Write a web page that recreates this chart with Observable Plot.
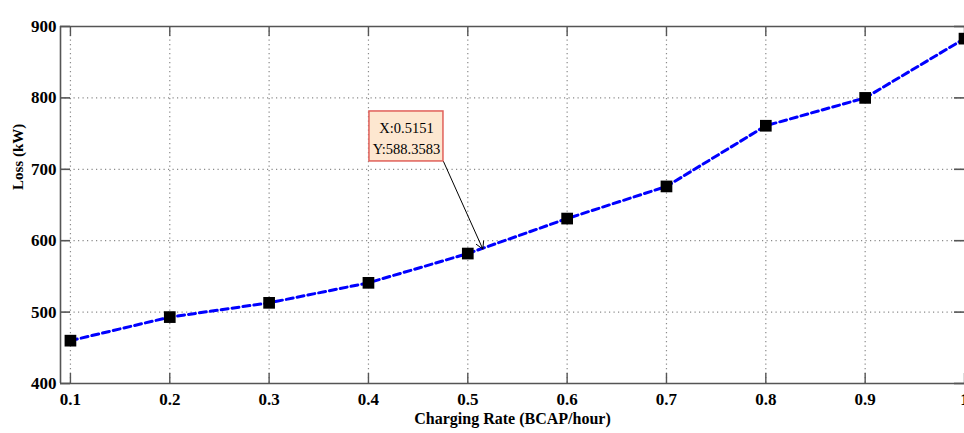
<!DOCTYPE html>
<html>
<head>
<meta charset="utf-8">
<script src="https://cdn.jsdelivr.net/npm/d3@7"></script>
<script src="https://cdn.jsdelivr.net/npm/@observablehq/plot@0.6"></script>
<style>
  html, body { margin: 0; padding: 0; background: #fff; overflow: hidden; }
  #chart svg { display: block; }
</style>
</head>
<body>
<div id="chart"></div>
<script>
// ---- data ----
const rate = [0.1, 0.2, 0.3, 0.4, 0.5, 0.6, 0.7, 0.8, 0.9, 1.0];
const loss = [460, 493, 513, 541, 582, 631, 676, 761, 800, 883];

const xTicks = [0.1, 0.2, 0.3, 0.4, 0.5, 0.6, 0.7, 0.8, 0.9, 1.0];
const xTickLabels = ["0.1", "0.2", "0.3", "0.4", "0.5", "0.6", "0.7", "0.8", "0.9", "1"];
const yTicks = [400, 500, 600, 700, 800, 900];
const xDomain = [0.09, 1.0];
const yDomain = [400, 900];

const xTitle = "Charging Rate (BCAP/hour)";
const yTitle = "Loss (kW)";

// data tip annotation
const tipX = 0.5151;
const tipY = 588.3583;
const tipLines = ["X:0.5151", "Y:588.3583"];
const tipBox = {x1: 0.401, x2: 0.4755, y1: 711, y2: 781};

// ---- build ----
const points = rate.map((r, i) => ({rate: r, loss: loss[i]}));
const xLabelMap = new Map(xTicks.map((t, i) => [t, xTickLabels[i]]));
const gridX = xTicks.filter(t => t > xDomain[0] && t < xDomain[1]);
const gridY = yTicks.filter(t => t > yDomain[0] && t < yDomain[1]);

const W = 964, H = 433, mL = 60, mT = 26, mB = 50, mR = 0;
const frameW = W - mL - mR, frameH = H - mT - mB;
const tickLen = 10;
const axisColor = "#555";

const chart = Plot.plot({
  width: W,
  height: H,
  marginLeft: mL,
  marginTop: mT,
  marginBottom: mB,
  marginRight: mR,
  style: {fontFamily: "'Liberation Serif', 'Times New Roman', serif", background: "#fff", color: "#000"},
  x: {domain: xDomain},
  y: {domain: yDomain},
  marks: [
    // dotted grid
    Plot.ruleX(gridX, {stroke: "#8a8a8a", strokeWidth: 1.2, strokeDasharray: "1.2,3.3"}),
    Plot.ruleY(gridY, {stroke: "#8a8a8a", strokeWidth: 1.2, strokeDasharray: "1.2,3.3"}),
    // frame lines (left, top, bottom)
    Plot.ruleX([xDomain[0]], {stroke: axisColor, strokeWidth: 1.6}),
    Plot.ruleY(yDomain, {stroke: axisColor, strokeWidth: 1.6}),
    // inward ticks
    Plot.ruleX(xTicks, {stroke: axisColor, strokeWidth: 1.4, insetTop: frameH - tickLen}),
    Plot.ruleX(xTicks, {stroke: axisColor, strokeWidth: 1.4, insetBottom: frameH - tickLen}),
    Plot.ruleY(yTicks, {stroke: axisColor, strokeWidth: 1.6, insetRight: frameW - tickLen}),
    Plot.ruleY(yTicks, {stroke: axisColor, strokeWidth: 1.6, insetLeft: frameW - tickLen}),
    // axis labels
    Plot.axisX(xTicks, {
      tickSize: 0, tickPadding: 9, fontSize: 17, fontWeight: "bold",
      tickFormat: d => xLabelMap.get(d), label: null
    }),
    Plot.axisY(yTicks, {
      tickSize: 0, tickPadding: 4, fontSize: 17, fontWeight: "bold", label: null
    }),
    // titles
    Plot.text([xTitle], {frameAnchor: "bottom", dy: 40, fontSize: 16, fontWeight: "bold", text: d => d}),
    Plot.text([yTitle], {frameAnchor: "left", dx: -42, dy: -15, rotate: -90, fontSize: 15, fontWeight: "bold", text: d => d}),
    // series
    Plot.line(points, {x: "rate", y: "loss", stroke: "#0000ff", strokeWidth: 3, strokeDasharray: "7,4"}),
    Plot.dot(points, {x: "rate", y: "loss", symbol: "square", r: 6.6, fill: "#000", stroke: "none"}),
    // data tip
    Plot.arrow([{}], {
      x1: tipBox.x2, y1: tipBox.y1, x2: tipX, y2: tipY,
      stroke: "#000", strokeWidth: 1, headLength: 12, inset: 0
    }),
    Plot.rect([tipBox], {x1: "x1", x2: "x2", y1: "y1", y2: "y2", fill: "#fde7d0", stroke: "#e0605a", strokeWidth: 1.5}),
    Plot.text([tipLines.join("\n")], {
      x: (tipBox.x1 + tipBox.x2) / 2, y: (tipBox.y1 + tipBox.y2) / 2,
      text: d => d, fontSize: 14.5, lineHeight: 1.5, fill: "#000"
    })
  ]
});

document.getElementById("chart").appendChild(chart);
</script>
</body>
</html>
